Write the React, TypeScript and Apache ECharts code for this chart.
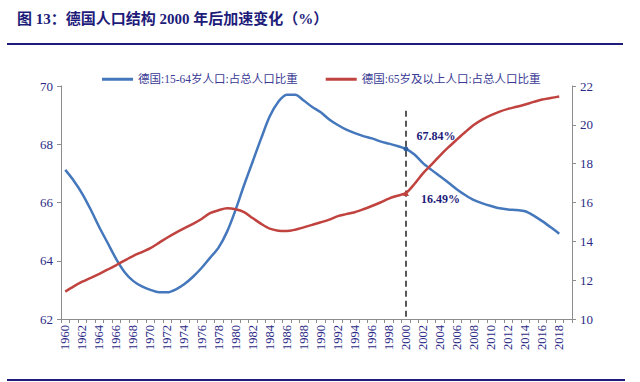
import React, { useEffect, useRef } from "react";
import * as echarts from "echarts";

const years: string[] = [];
for (let y = 1960; y <= 2019; y++) years.push(String(y));

const workingAge: (number | null)[] = [
  67.12, 66.75, 66.3, 65.75, 65.15, 64.6, 64.05, 63.6, 63.3, 63.12,
  63.0, 62.92, 62.92, 63.02, 63.2, 63.45, 63.75, 64.1, 64.45, 65.0,
  65.75, 66.6, 67.4, 68.2, 68.95, 69.45, 69.7, 69.7, 69.5, 69.28,
  69.1, 68.85, 68.66, 68.5, 68.38, 68.28, 68.2, 68.1, 68.02, 67.94,
  67.84, 67.65, 67.35, 67.12, 66.9, 66.68, 66.45, 66.25, 66.08, 65.97,
  65.88, 65.8, 65.76, 65.74, 65.7, 65.55, 65.36, 65.15, 64.93, null,
];

const elderly: (number | null)[] = [
  11.41, 11.68, 11.92, 12.12, 12.33, 12.55, 12.78, 13.02, 13.25, 13.45,
  13.65, 13.92, 14.2, 14.45, 14.68, 14.9, 15.15, 15.45, 15.6, 15.7,
  15.65, 15.5, 15.2, 14.9, 14.65, 14.55, 14.53, 14.6, 14.72, 14.85,
  14.98, 15.12, 15.3, 15.4, 15.5, 15.65, 15.82, 16.0, 16.2, 16.35,
  16.49, 16.95, 17.5, 17.95, 18.42, 18.85, 19.25, 19.64, 20.0, 20.28,
  20.5, 20.68, 20.82, 20.93, 21.05, 21.18, 21.3, 21.38, 21.46, null,
];

const seriesNames = ["德国:15-64岁人口:占总人口比重", "德国:65岁及以上人口:占总人口比重"];
const markYear = "2000";
const markWorking = 67.84;
const markElderly = 16.49;
const markLineTop = 69.15;

const FONT = "'Times New Roman', 'Liberation Serif', 'Noto Sans CJK SC', serif";
const NAVY = "#1e1c7a";
const LABEL = "#2b2a86";
const BLUE = "#4477bb";
const RED = "#c0433f";

export default function App() {
  const ref = useRef<HTMLDivElement>(null);
  useEffect(() => {
    if (!ref.current) return;
    const chart = echarts.init(ref.current, null, { renderer: "svg" });
    const axisLine = { show: true, lineStyle: { color: "#8c8c8c", width: 1 } };
    chart.setOption({
      animation: false,
      backgroundColor: "#ffffff",
      textStyle: { fontFamily: FONT },
      graphic: [
        {
          type: "text",
          left: 17,
          top: 11,
          style: {
            text: "图 13：德国人口结构 2000 年后加速变化（%）",
            fill: NAVY,
            font: `bold 15px ${FONT}`,
          },
        },
        { type: "rect", left: 7, top: 43, shape: { width: 616, height: 2 }, style: { fill: NAVY } },
        { type: "rect", left: 7, top: 379, shape: { width: 618, height: 2 }, style: { fill: NAVY } },
      ],
      legend: {
        left: 97,
        top: 68.5,
        itemWidth: 31,
        itemHeight: 3,
        itemGap: 28,
        textStyle: { color: "#3a3a95", fontSize: 11.5, fontFamily: FONT },
        data: seriesNames.map((n) => ({ name: n, icon: "rect" })),
      },
      grid: { left: 61, right: 68, top: 86, bottom: 63 },
      xAxis: {
        type: "category",
        data: years,
        boundaryGap: true,
        axisLine,
        axisTick: { show: true, interval: 0, length: 4, lineStyle: { color: "#8c8c8c" } },
        axisLabel: {
          interval: 1,
          rotate: 90,
          margin: 6,
          color: LABEL,
          fontSize: 12.5,
          fontFamily: FONT,
        },
        splitLine: { show: false },
      },
      yAxis: [
        {
          type: "value",
          min: 62,
          max: 70,
          interval: 2,
          axisLine,
          axisTick: { show: true, length: 4, lineStyle: { color: "#8c8c8c" } },
          axisLabel: { color: LABEL, fontSize: 13, fontFamily: FONT, margin: 8 },
          splitLine: { show: false },
        },
        {
          type: "value",
          min: 10,
          max: 22,
          interval: 2,
          position: "right",
          axisLine,
          axisTick: { show: true, length: 4, lineStyle: { color: "#8c8c8c" } },
          axisLabel: { color: LABEL, fontSize: 13, fontFamily: FONT, margin: 8 },
          splitLine: { show: false },
        },
      ],
      series: [
        {
          name: seriesNames[0],
          type: "line",
          yAxisIndex: 0,
          data: workingAge,
          symbol: "none",
          smooth: 0.3,
          lineStyle: { color: BLUE, width: 2.5 },
          itemStyle: { color: BLUE },
          markPoint: {
            symbol: "circle",
            symbolSize: 5,
            itemStyle: { color: "#2f5f9e" },
            label: {
              show: true,
              position: "right",
              distance: 8,
              offset: [0, -13],
              formatter: (p: any) => `${p.value}%`,
              color: NAVY,
              fontWeight: "bold",
              fontSize: 12,
              fontFamily: FONT,
            },
            data: [{ coord: [markYear, markWorking], value: markWorking }],
          },
          markLine: {
            silent: true,
            symbol: ["none", "none"],
            label: { show: false },
            lineStyle: { color: "#222222", type: [6, 4], width: 1.5 },
            data: [[{ xAxis: markYear, yAxis: markLineTop }, { xAxis: markYear, yAxis: 62 }]],
          },
        },
        {
          name: seriesNames[1],
          type: "line",
          yAxisIndex: 1,
          data: elderly,
          symbol: "none",
          smooth: 0.3,
          lineStyle: { color: RED, width: 2.5 },
          itemStyle: { color: RED },
          markPoint: {
            symbol: "triangle",
            symbolSize: 6,
            itemStyle: { color: RED },
            label: {
              show: true,
              position: "right",
              distance: 12,
              offset: [0, 6],
              formatter: (p: any) => `${p.value}%`,
              color: NAVY,
              fontWeight: "bold",
              fontSize: 12,
              fontFamily: FONT,
            },
            data: [{ coord: [markYear, markElderly], value: markElderly }],
          },
        },
      ],
    });
    return () => chart.dispose();
  }, []);
  return <div ref={ref} style={{ width: 640, height: 382, position: "absolute", left: 0, top: 0 }} />;
}
